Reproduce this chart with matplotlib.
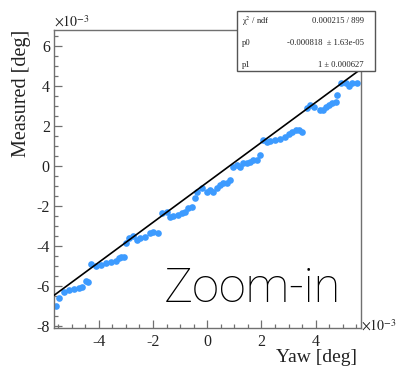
import numpy as np
import matplotlib
matplotlib.use("Agg")
import matplotlib.pyplot as plt
from matplotlib.ticker import MultipleLocator
from matplotlib.patches import Rectangle

# yaw vs measured, both in units of 1e-3 deg
yaw = [-5.57, -5.46, -5.28, -5.09, -4.91, -4.72, -4.61, -4.47, -4.39,
       -4.28, -4.10, -3.92, -3.74, -3.55, -3.37, -3.26, -3.18, -3.07,
       -3.00, -2.89, -2.74, -2.59, -2.48, -2.30, -2.11, -2.00, -1.82,
       -1.67, -1.49, -1.38, -1.27, -1.08, -0.94, -0.83, -0.72, -0.57, -0.46, -0.39,
       -0.20, -0.02, 0.09, 0.20, 0.35, 0.46, 0.57, 0.72, 0.83,
       0.94, 1.08, 1.19, 1.31, 1.45, 1.56, 1.67, 1.82, 1.93,
       2.04, 2.19, 2.33, 2.48, 2.67, 2.85, 3.03, 3.14, 3.29, 3.40, 3.51,
       3.66, 3.77, 3.95, 4.14, 4.25, 4.39, 4.50, 4.61, 4.76, 4.80,
       4.94, 5.13, 5.24, 5.35, 5.53]
measured = [-7.00, -6.60, -6.30, -6.20, -6.15, -6.10, -6.05, -5.75, -5.80,
            -4.90, -5.00, -4.95, -4.85, -4.80, -4.75, -4.60, -4.55, -4.55,
            -3.85, -3.60, -3.50, -3.70, -3.60, -3.55, -3.35, -3.30, -3.35,
            -2.35, -2.30, -2.55, -2.50, -2.45, -2.35, -2.30, -2.10, -2.05, -1.60, -1.30,
            -1.10, -1.30, -1.20, -1.30, -1.10, -0.95, -0.85, -0.85, -0.70,
            -0.05, 0.05, -0.05, 0.15, 0.15, 0.20, 0.30, 0.30, 0.55,
            1.30, 1.20, 1.25, 1.30, 1.35, 1.45, 1.60, 1.70, 1.80, 1.80, 1.70,
            2.90, 3.05, 2.95, 2.80, 2.80, 2.95, 3.05, 3.15, 3.20, 3.55,
            4.15, 4.15, 4.00, 4.15, 4.15]

# fit results
p0, p0_err = -0.000818, 1.63e-05
p1, p1_err = 1, 0.000627
chi2, ndf = 0.000215, 899

xmin, xmax = -5.65, 5.65
ymin, ymax = -8.1, 6.8

frame = "#707070"
serif = "Liberation Serif"
plt.rcParams["mathtext.fontset"] = "stix"
plt.rcParams["axes.unicode_minus"] = False

fig = plt.figure(figsize=(3.97, 3.68), dpi=100)
ax = fig.add_axes([54/397, 1-328/368, 306.5/397, 298/368])

ax.plot(yaw, measured, "o", color="#3d9bff", ms=4.8, mec="none", zorder=2)
xf = np.array([xmin, xmax])
ax.plot(xf, p0*1e3 + p1*xf, color="black", lw=1.2, zorder=3)

ax.set_xlim(xmin, xmax)
ax.set_ylim(ymin, ymax)
ax.xaxis.set_major_locator(MultipleLocator(2))
ax.xaxis.set_minor_locator(MultipleLocator(0.5))
ax.yaxis.set_major_locator(MultipleLocator(2))
ax.yaxis.set_minor_locator(MultipleLocator(0.5))
ax.tick_params(which="both", direction="in", color=frame, width=0.9,
               labelsize=11.5, labelcolor="#222222")
ax.tick_params(which="major", length=6)
ax.tick_params(which="minor", length=3)
ax.tick_params(axis="x", pad=4)
ax.tick_params(axis="y", pad=3)
for lab in ax.get_xticklabels() + ax.get_yticklabels():
    lab.set_fontfamily(serif)
for s in ax.spines.values():
    s.set_color(frame)
    s.set_linewidth(1.0)

ax.set_ylabel("Measured [deg]", fontfamily=serif, fontsize=14.5, color="#222222", loc="top")
ax.yaxis.set_label_coords(-0.075, 1.0)
ax.set_xlabel("Yaw [deg]", fontfamily=serif, fontsize=14, color="#222222", loc="right")
ax.xaxis.set_label_coords(0.99, -0.072)

fig.text(54/397, 1-22/368, r"$\times10^{-3}$", fontsize=10, color="#222222", va="center", ha="left")
fig.text(361/397, 1-326/368, r"$\times10^{-3}$", fontsize=10, color="#222222", va="center", ha="left")

ax.text(164/397, 1-302/368, "Zoom-in", transform=fig.transFigure, fontfamily="Roboto",
        fontweight="light", fontsize=35, color="black", ha="left", va="baseline", zorder=5)

# stats box
bx0, bx1, by0, by1 = 237, 375, 11, 71
fig.add_artist(Rectangle((bx0/397, 1-by1/368), (bx1-bx0)/397, (by1-by0)/368,
                         transform=fig.transFigure, facecolor="white",
                         edgecolor="#555555", lw=1.0, zorder=10))
rows = [("χ$^2$ / ndf", f"{chi2} / {ndf}"),
        ("p0", f"{p0:.6f}  ± {p0_err:.3g}"),
        ("p1", f"{p1} ± {p1_err}")]
for i, (name, val) in enumerate(rows):
    yy = 1 - (21 + i*22)/368
    fig.text(242/397, yy, name, fontfamily=serif, fontsize=6.2, color="#222222",
             va="center", ha="left", zorder=11)
    fig.text(364/397, yy, val, fontfamily=serif, fontsize=6.2, color="#222222",
             va="center", ha="right", zorder=11)

fig.savefig("out.png", dpi=100)
